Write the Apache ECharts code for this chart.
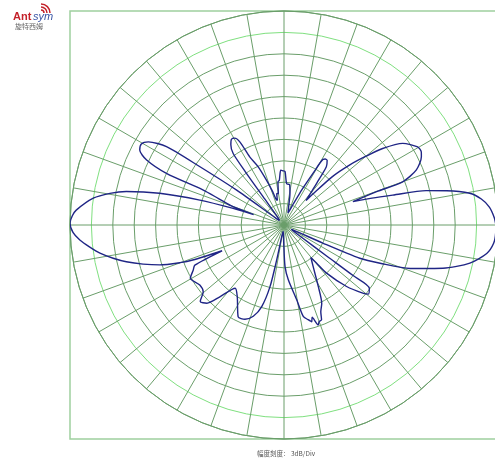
<!DOCTYPE html>
<html>
<head>
<meta charset="utf-8">
<script src="https://cdn.jsdelivr.net/npm/echarts@6/dist/echarts.min.js"></script>
<style>
html,body{margin:0;padding:0;background:#fff;}
#chart{width:495px;height:463px;}
</style>
</head>
<body>
<div id="chart"></div>
<script>
// pattern trace: angle in degrees (0 = right, counter-clockwise), gain in dB
var angles = [0,2,5,7.5,9.7,11.9,13.6,15.4,17,18.7,
  19.8,20,22.6,26.4,28,30.3,34.5,37.8,40,42.4,45,47,48,
  50,52,54,56.3,58,59.3,60.7,62,63.7,66,69,
  72,75,79.3,82,86.3,88.9,91,93.4,96,98,100.2,103,105,
  106.9,109,111.4,114,116.7,118,119.6,121.5,123.5,125.4,126,126.5,128,
  130,135,140,
  143.7,145.3,146.3,148.5,150.4,152.5,154.7,156.3,156.6,158,160.3,161,
  161.9,163.5,165.7,168,169.7,172,175.9,177.5,179.5,182,184.2,186.5,188.7,191,193.1,195.5,197.8,199.9,201,202.6,
  204.2,206.4,209.6,215.5,219.6,222.4,225.4,228.2,232.3,236.9,243.5,247.5,251.4,254.7,257.2,258.2,259,
  262,266,269,
  271.4,274.5,279.6,281.9,284.3,286,287,288.9,290,291.6,293,295.7,299.1,305.1,309.6,
  310.5,311.5,315.5,319.3,320.7,323.4,323.8,324,325,
  328,332,
  335,336.3,338.3,341,344.8,348.4,352,355,358,360];
var gains = [-0.3,-0.5,-1.1,-2.1,-3.6,-6.7,-9.5,-14.2,-17.1,-19.8,
  -16.2,-12.3,-9.9,-8.5,-8.2,-8.3,-9.8,-12.5,-15,-17.5,-20.4,-24,-25.4,
  -24.3,-22.5,-19.9,-19.1,-19.1,-19.3,-21.7,-23.4,-25,-26.7,-27.8,
  -28.2,-27.6,-25.5,-24.3,-24.2,-22.5,-22.4,-22.3,-23.7,-23.9,-25.5,-25.5,-26.4,
  -26.3,-24.9,-23.2,-21,-19.3,-16.8,-16,-15.9,-16.5,-17.7,-21,-25.5,-28.2,
  -28.8,-29.1,-28.5,
  -21.7,-15.6,-10.2,-7.7,-7,-7.2,-8.7,-12,-17.6,-20.1,-22.4,-25.5,
  -22.5,-17.7,-12,-7.4,-5.2,-3,-0.8,-0.3,0,-0.4,-1.3,-2.6,-3.9,-5.6,-7.3,-9.5,-11.7,-14.5,-16.3,-20.6,
  -16.3,-15.8,-14.9,-15.5,-15.3,-14.1,-14.6,-16.5,-18.8,-18,-15.6,-15.7,-16.5,-18.1,-21.1,-25,-28.4,
  -29.1,-28.8,-27.6,
  -24.2,-22.3,-19.4,-16.9,-16.3,-15.9,-16.5,-15.2,-15.6,-15.7,-16.8,-17.8,-20.1,-22.9,-24.1,
  -23,-21,-17.7,-15.3,-14.7,-15.1,-18,-22.5,-27,
  -28.8,-28.5,
  -24,-18.4,-15.5,-11.3,-6.9,-3.4,-1.3,-0.5,-0.3,-0.3];
var radiusTicks = [-30,-27,-24,-21,-18,-15,-12,-9,-6,-3,0];
var scaleNote = '幅度刻度： 3dB/Div';

var cx = 284, cy = 225, R = 214;
var gridGreen = '#6a9e6a';
var ringColors = radiusTicks.map(function(v){ return v === -3 ? '#7fe07f' : gridGreen; });

var pattern = angles.map(function(a, i){ return [gains[i], a]; });

var chart = echarts.init(document.getElementById('chart'));
chart.setOption({
  backgroundColor: '#fff',
  animation: false,
  polar: { center: [cx, cy], radius: R },
  angleAxis: {
    type: 'value', min: 0, max: 360, interval: 10,
    startAngle: 0, clockwise: false,
    axisLine: { lineStyle: { color: gridGreen, width: 1 } },
    axisTick: { show: false },
    axisLabel: { show: false },
    splitLine: { show: true, lineStyle: { color: gridGreen, width: 1 } }
  },
  radiusAxis: {
    type: 'value', min: -30, max: 0, interval: 3,
    axisLine: { show: false },
    axisTick: { show: false },
    axisLabel: { show: false },
    splitLine: { show: true, lineStyle: { color: ringColors, width: 1 } }
  },
  graphic: [
    { type: 'rect', shape: { x: cx - R, y: cy - R, width: 2 * R, height: 2 * R },
      style: { fill: 'none', stroke: '#9fd09f', lineWidth: 1.5 }, z: -1 },
    { type: 'text', left: 13, top: 11,
      style: { text: 'Ant', fill: '#c4222b', font: 'bold 11px "Liberation Sans", Arial' } },
    { type: 'text', left: 33, top: 11,
      style: { text: 'sym', fill: '#3a55a5', font: 'italic 11px "Liberation Sans", Arial' } },
    { type: 'arc', shape: { cx: 41, cy: 13, r: 3, startAngle: -Math.PI / 2, endAngle: 0 },
      style: { stroke: '#c4222b', lineWidth: 1.5, fill: 'none' } },
    { type: 'arc', shape: { cx: 41, cy: 13, r: 6, startAngle: -Math.PI / 2, endAngle: 0 },
      style: { stroke: '#c4222b', lineWidth: 1.5, fill: 'none' } },
    { type: 'arc', shape: { cx: 41, cy: 13, r: 9, startAngle: -Math.PI / 2, endAngle: 0 },
      style: { stroke: '#c4222b', lineWidth: 1.5, fill: 'none' } },
    { type: 'text', left: 15, top: 23,
      style: { text: '旋特西姆', fill: '#666', font: '7px "Noto Sans CJK SC"' } },
    { type: 'text', left: 257, top: 450,
      style: { text: scaleNote, fill: '#555', font: '6.5px "Noto Sans CJK SC"' } }
  ],
  series: [{
    type: 'line',
    coordinateSystem: 'polar',
    data: pattern,
    showSymbol: false,
    smooth: 0.25,
    lineStyle: { color: '#1f2585', width: 1.4 },
    z: 5
  }]
});
</script>
</body>
</html>
